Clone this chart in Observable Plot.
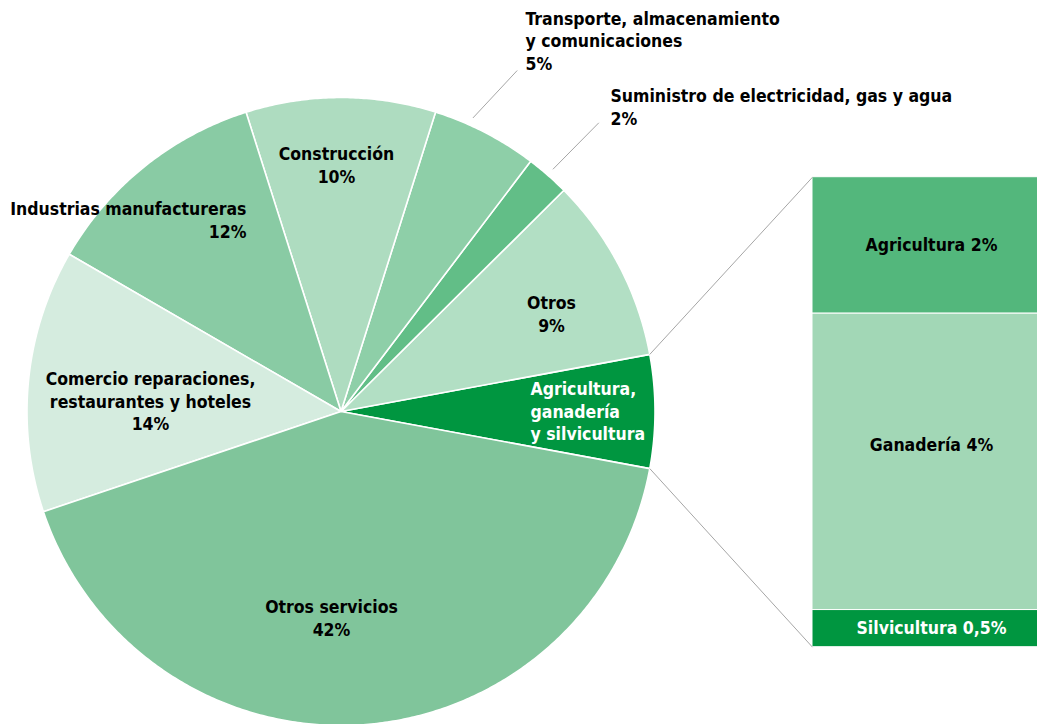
<!DOCTYPE html>
<html>
<head>
<meta charset="utf-8">
<script src="https://cdn.jsdelivr.net/npm/d3@7"></script>
<script src="https://cdn.jsdelivr.net/npm/@observablehq/plot@0.6"></script>
<style>
  html, body { margin: 0; padding: 0; background: #ffffff; overflow: hidden; }
  #chart { width: 1037px; height: 724px; overflow: hidden; }
</style>
</head>
<body>
<div id="chart"></div>
<script>
// ---------------- DATA (counter-clockwise from the exploded slice) ----------------
const sectors = [
  "Agricultura, ganadería y silvicultura",
  "Otros",
  "Suministro de electricidad, gas y agua",
  "Transporte, almacenamiento y comunicaciones",
  "Construcción",
  "Industrias manufactureras",
  "Comercio reparaciones, restaurantes y hoteles",
  "Otros servicios"
];
const shares = [5.82, 9.53, 2.24, 5.45, 9.76, 11.76, 13.52, 41.92];
const sectorLabels = [
  "Agricultura,\nganadería\ny silvicultura",
  "Otros\n9%",
  "Suministro de electricidad, gas y agua\n2%",
  "Transporte, almacenamiento\ny comunicaciones\n5%",
  "Construcción\n10%",
  "Industrias manufactureras\n12%",
  "Comercio reparaciones,\nrestaurantes y hoteles\n14%",
  "Otros servicios\n42%"
];
const sectorColors = ["#009640", "#b2dfc4", "#62be87", "#8ecfa8", "#aedcc0", "#89cba4", "#d5ecdf", "#80c59b"];
const sectorTextColors = ["#ffffff", "#000000", "#000000", "#000000", "#000000", "#000000", "#000000", "#000000"];

const subSectors = ["Agricultura", "Ganadería", "Silvicultura"];
const subShares = [1.69, 3.67, 0.46];
const subLabels = ["Agricultura 2%", "Ganadería 4%", "Silvicultura 0,5%"];
const subColors = ["#53b77c", "#a2d7b6", "#009640"];
const subTextColors = ["#000000", "#000000", "#ffffff"];

// ---------------- LAYOUT ----------------
const W = 1037, H = 724;
const CX = 340.5, CY = 411, R = 314;          // pie centre / radius in pixels
const ux = px => (px - CX) / R;               // pixel -> pie units
const uy = py => (CY - py) / R;
const FONT = "DejaVu Sans Condensed";
const FS = 17.5;

// label anchors (pixels), one per sector
const labelLayout = [
  {x: 530, y: 410, anchor: "start"},
  {x: 551, y: 313, anchor: "middle"},
  {x: 610, y: 106, anchor: "start"},
  {x: 525, y: 39.5, anchor: "start"},
  {x: 336, y: 164, anchor: "middle"},
  {x: 246, y: 219, anchor: "end"},
  {x: 150, y: 400, anchor: "middle"},
  {x: 331, y: 617, anchor: "middle"}
];
// bar label vertical shift (pixels) relative to segment middle
const subLabelShift = [0, -16, 0];
// leader lines: fraction along slice, end point (pixels)
const leaders = [
  {i: 3, frac: 0.66, ex: 516.7, ey: 70},
  {i: 2, frac: 0.5, ex: 598.3, ey: 122.3}
];
// bar of pie
const barLeft = 812, barRight = 1050, barTop = 176.7, barBottom = 646.7;

// ---------------- GEOMETRY ----------------
const total = d3.sum(shares);
const deg = Math.PI / 180;
const start0 = -shares[0] / total * 180;
const cum = [0, ...d3.cumsum(shares)];
const slices = shares.map((v, i) => {
  const a0 = start0 + cum[i] / total * 360;
  const a1 = start0 + cum[i + 1] / total * 360;
  return {name: sectors[i], a0, a1};
});
const polar = (r, a) => ({x: r * Math.cos(a * deg), y: r * Math.sin(a * deg)});
const slicePoints = slices.map(s => {
  const n = Math.max(2, Math.ceil((s.a1 - s.a0) / 0.5));
  const pts = [{x: 0, y: 0}];
  for (let k = 0; k <= n; k++) pts.push(polar(1, s.a0 + (s.a1 - s.a0) * k / n));
  pts.push({x: 0, y: 0});
  return pts;
});

const subTotal = d3.sum(subShares);
const subCum = [0, ...d3.cumsum(subShares)];
const barH = uy(barTop) - uy(barBottom);
const barData = subShares.map((v, i) => ({
  name: subSectors[i],
  x1: ux(barLeft), x2: ux(barRight),
  y1: uy(barTop) - subCum[i] / subTotal * barH,
  y2: uy(barTop) - subCum[i + 1] / subTotal * barH,
  fill: subColors[i]
}));

const agri = slices[0];
const connectors = [
  {...(p => ({x1: p.x, y1: p.y}))(polar(1, agri.a1)), x2: ux(barLeft), y2: uy(barTop)},
  {...(p => ({x1: p.x, y1: p.y}))(polar(1, agri.a0)), x2: ux(barLeft), y2: uy(barBottom)}
];
const leaderLines = leaders.map(l => {
  const s = slices[l.i];
  const p = polar(1.025, s.a0 + (s.a1 - s.a0) * l.frac);
  return {x1: p.x, y1: p.y, x2: ux(l.ex), y2: uy(l.ey)};
});

// ---------------- MARKS ----------------
const marks = [];
slicePoints.forEach((pts, i) => {
  marks.push(Plot.line(pts, {x: "x", y: "y", fill: sectorColors[i], stroke: "#ffffff", strokeWidth: 1.6, strokeLinejoin: "round"}));
});
marks.push(Plot.rect(barData, {x1: "x1", x2: "x2", y1: "y1", y2: "y2", fill: "fill", stroke: "#ffffff", strokeWidth: 1, clip: true}));
marks.push(Plot.link(connectors, {x1: "x1", y1: "y1", x2: "x2", y2: "y2", stroke: "#a6a6a6", strokeWidth: 1}));
marks.push(Plot.link(leaderLines, {x1: "x1", y1: "y1", x2: "x2", y2: "y2", stroke: "#a6a6a6", strokeWidth: 1}));
sectorLabels.forEach((t, i) => {
  const L = labelLayout[i];
  marks.push(Plot.text([t], {
    x: () => ux(L.x), y: () => uy(L.y), text: d => d,
    textAnchor: L.anchor, lineAnchor: "middle", lineHeight: 1.28,
    fill: sectorTextColors[i], fontFamily: FONT, fontWeight: "bold", fontSize: FS
  }));
});
barData.forEach((b, i) => {
  marks.push(Plot.text([subLabels[i]], {
    x: () => (b.x1 + b.x2) / 2, y: () => (b.y1 + b.y2) / 2 - subLabelShift[i] / R, text: d => d,
    textAnchor: "middle", lineAnchor: "middle",
    fill: subTextColors[i], fontFamily: FONT, fontWeight: "bold", fontSize: FS
  }));
});

const chart = Plot.plot({
  width: W, height: H,
  margin: 0,
  x: {domain: [ux(0), ux(W)], axis: null},
  y: {domain: [uy(H), uy(0)], axis: null},
  style: {background: "#ffffff", overflow: "hidden"},
  marks
});
document.getElementById("chart").appendChild(chart);
</script>
</body>
</html>
